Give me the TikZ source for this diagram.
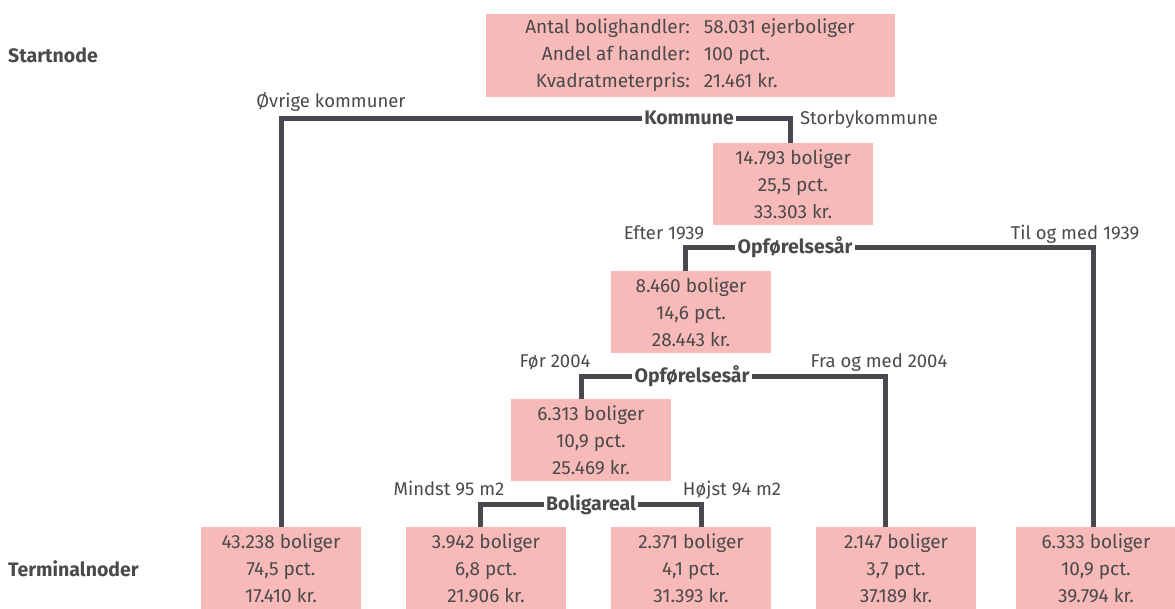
\documentclass[tikz,border=0pt]{standalone}
\usepackage{fontspec}
\setmainfont{Fira Sans}
\usepackage{xcolor}
\definecolor{boxpink}{HTML}{F8B9B9}
\definecolor{txtgray}{HTML}{4A4A4A}
\definecolor{linegray}{HTML}{48484E}

\begin{document}
\begin{tikzpicture}[x=1pt, y=-1pt,
    leaf/.style={rectangle, fill=boxpink, minimum width=160pt, minimum height=82pt, inner sep=0pt, align=center, text=txtgray, font=\fontsize{19}{27}\selectfont},
    split/.style={inner sep=2pt, text=txtgray, font=\fontsize{19.5}{22}\selectfont\bfseries, text height=15pt, text depth=2pt},
    branch/.style={inner sep=0pt, text=txtgray, font=\fontsize{18.5}{22}\selectfont, text height=15pt, text depth=2pt},
    conn/.style={draw=linegray, line width=5pt}]
    \useasboundingbox (0,0) rectangle (1175,608);

    % Root and side labels
    \node[leaf, minimum width=409pt, minimum height=83pt] (root) at (690,55)
        {\begin{tabular}{@{}r@{\hspace{14pt}}l@{}}
         Antal bolighandler: & 58.031 ejerboliger\\
         Andel af handler: & 100 pct.\\
         Kvadratmeterpris: & 21.461 kr.
         \end{tabular}};
    \node[branch, anchor=west, font=\fontsize{19.5}{22}\selectfont\bfseries] (startlbl) at (8,56) {Startnode};
    \node[branch, anchor=west, font=\fontsize{19.5}{22}\selectfont\bfseries] (termlbl) at (8,570) {Terminalnoder};

    % Inner nodes
    \node[leaf] (storby) at (793,184) {14.793 boliger\\25,5 pct.\\33.303 kr.};
    \node[leaf] (efter) at (691,312) {8.460 boliger\\14,6 pct.\\28.443 kr.};
    \node[leaf] (foer) at (591,440) {6.313 boliger\\10,9 pct.\\25.469 kr.};

    % Terminal nodes
    \node[leaf] (ovrige) at (281,568) {43.238 boliger\\74,5 pct.\\17.410 kr.};
    \node[leaf] (mindst) at (486,568) {3.942 boliger\\6,8 pct.\\21.906 kr.};
    \node[leaf] (hoejst) at (691,568) {2.371 boliger\\4,1 pct.\\31.393 kr.};
    \node[leaf] (fraog) at (896,568) {2.147 boliger\\3,7 pct.\\37.189 kr.};
    \node[leaf] (tilog) at (1096,568) {6.333 boliger\\10,9 pct.\\39.794 kr.};

    % Split: Kommune
    \node[split] (kommune) at (689,118) {Kommune};
    \draw[conn] (kommune.west) -| (ovrige.north);
    \draw[conn] (kommune.east) -| ([xshift=-3pt]storby.north);
    \node[branch] (lblovr) at (331,101) {Øvrige kommuner};
    \node[branch] (lblstor) at (869,118) {Storbykommune};

    % Split: Opførelsesår 1939
    \node[split] (opf1) at (795,247) {Opførelsesår};
    \draw[conn] (opf1.west) -| ([xshift=-6pt]efter.north);
    \draw[conn] (opf1.east) -| ([xshift=-3pt]tilog.north);
    \node[branch] (lbleft) at (664,233) {Efter 1939};
    \node[branch] (lbltil) at (1075,233) {Til og med 1939};

    % Split: Opførelsesår 2004
    \node[split] (opf2) at (692,376) {Opførelsesår};
    \draw[conn] (opf2.west) -| ([xshift=-10pt]foer.north);
    \draw[conn] (opf2.east) -| ([xshift=-11pt]fraog.north);
    \node[branch] (lblfoer) at (555,361) {Før 2004};
    \node[branch] (lblfra) at (879,361) {Fra og med 2004};

    % Split: Boligareal
    \node[split] (areal) at (591,504) {Boligareal};
    \draw[conn] (areal.west) -| ([xshift=-6pt]mindst.north);
    \draw[conn] (areal.east) -| ([xshift=10pt]hoejst.north);
    \node[branch] (lblmin) at (449,489) {Mindst 95 m2};
    \node[branch] (lblhoj) at (732,489) {Højst 94 m2};
\end{tikzpicture}
\end{document}
